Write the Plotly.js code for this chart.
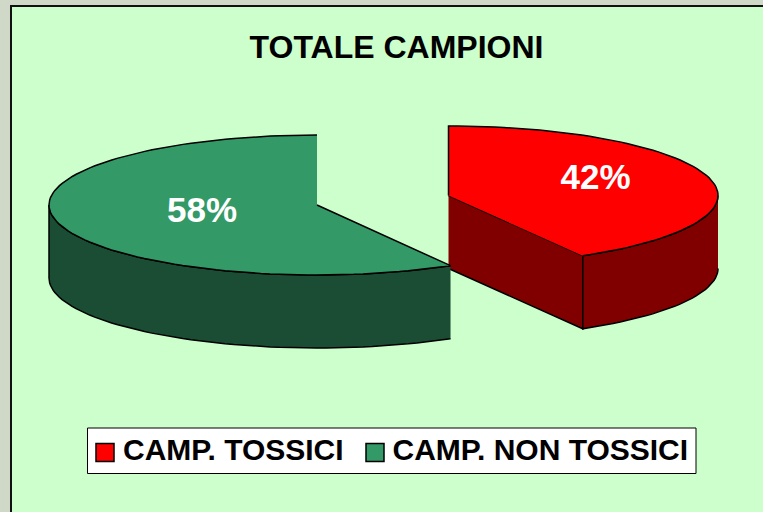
<!DOCTYPE html>
<html><head><meta charset="utf-8">
<script src="https://cdn.plot.ly/plotly-3.0.1.min.js"></script>
<style>html,body{margin:0;padding:0;background:#D0D8C8}#c{width:763px;height:512px}</style>
</head><body><div id="c"></div>
<script>
const chartTitle = 'TOTALE CAMPIONI';
const categories = ['CAMP. TOSSICI', 'CAMP. NON TOSSICI'];
const values = [41.7, 58.3];
const topColors = ['#FF0000', '#339966'];
const wallColors = ['#800000', '#1A4D33'];

// Projection of the tilted pie, in the pixel-scaled axes below
const centres = [[448.5, 195.5], [317, 205]];
const radiiX = [269.5, 268], radiiY = [69.5, 70], depth = 73;
const labelAt = [[595.5, 180], [202, 213]];
const legendSwatchAt = [[105, 452.5], [375, 452.5]];
const legendTextAt = [[123, 452], [392.5, 452]];

const total = values.reduce((a, b) => a + b, 0);
const startDeg = [0, values[0] / total * 360];
const endDeg = [values[0] / total * 360, 360];
const pt = (i, deg, dy) => {
  const r = deg * Math.PI / 180, c = centres[i];
  return [c[0] + radiiX[i] * Math.sin(r), c[1] - radiiY[i] * Math.cos(r) + (dy || 0)];
};
const arc = (i, a, b, dy) => {
  const out = [], n = Math.max(2, Math.ceil(Math.abs(b - a) / 2));
  for (let k = 0; k <= n; k++) out.push(pt(i, a + (b - a) * k / n, dy));
  return out;
};
const poly = (pts, color, name) => ({
  type: 'scatter', mode: 'lines', x: pts.map(p => p[0]), y: pts.map(p => p[1]),
  fill: 'toself', fillcolor: color, line: {color: '#000', width: 1.5},
  showlegend: false, hoverinfo: 'skip', name: name
});

const traces = [];
categories.forEach((name, i) => {
  const c = centres[i], a = startDeg[i], b = endDeg[i];
  // outer wall: only the front part (90..270 deg) is visible
  const fa = Math.max(a, 90), fb = Math.min(b, 270);
  const outer = arc(i, fa, fb, 0).concat(arc(i, fb, fa, depth));
  // cut wall facing the viewer (first slice only: its end edge)
  if (i === 0) {
    const e = pt(i, b);
    traces.push(poly([[c[0], c[1]], e, [e[0], e[1] + depth], [c[0], c[1] + depth]], wallColors[i], name));
  }
  traces.push(poly(outer, wallColors[i], name));
  traces.push(poly([c].concat(arc(i, a, b, 0)), topColors[i], name));
});

// data labels
traces.push({
  type: 'scatter', mode: 'text',
  x: labelAt.map(p => p[0]), y: labelAt.map(p => p[1]),
  text: values.map(v => Math.round(v / total * 100) + '%'),
  textposition: 'middle center',
  textfont: {family: 'Liberation Sans, Arial, sans-serif', size: 35, color: '#FFFFFF', weight: 700},
  showlegend: false, hoverinfo: 'skip'
});

// legend entries
categories.forEach((name, i) => {
  traces.push({
    type: 'scatter', mode: 'markers', x: [legendSwatchAt[i][0]], y: [legendSwatchAt[i][1]], name: name,
    marker: {symbol: 'square', size: 18, color: topColors[i], line: {color: '#000', width: 1.5}},
    showlegend: false, hoverinfo: 'skip'
  });
  traces.push({
    type: 'scatter', mode: 'text', x: [legendTextAt[i][0]], y: [legendTextAt[i][1]], name: name,
    text: [name], textposition: 'middle right',
    textfont: {family: 'Liberation Sans, Arial, sans-serif', size: 30, color: '#000', weight: 700},
    showlegend: false, hoverinfo: 'skip'
  });
});

const layout = {
  width: 763, height: 512,
  margin: {l: 12, r: 0, t: 7, b: 0, pad: 0},
  paper_bgcolor: '#D0D8C8', plot_bgcolor: '#CCFFCC',
  title: {text: '<b>' + chartTitle + '</b>', xref: 'container', yref: 'container',
    x: 396.5 / 763, y: 1 - 47 / 512, xanchor: 'center', yanchor: 'middle',
    font: {family: 'Liberation Sans, Arial, sans-serif', size: 32, color: '#000'}},
  xaxis: {range: [12, 763], side: 'top', showline: true, linecolor: '#111', linewidth: 2,
    showgrid: false, zeroline: false, showticklabels: false, ticks: '', fixedrange: true},
  yaxis: {range: [512, 7], showline: true, linecolor: '#111', linewidth: 2,
    showgrid: false, zeroline: false, showticklabels: false, ticks: '', fixedrange: true},
  shapes: [{type: 'rect', xref: 'x', yref: 'y', x0: 87.5, x1: 696, y0: 428, y1: 473.5,
    fillcolor: '#FFFFFF', line: {color: '#000', width: 1}, layer: 'below'}],
  showlegend: false
};
Plotly.newPlot('c', traces, layout, {displayModeBar: false, staticPlot: true});
</script></body></html>
